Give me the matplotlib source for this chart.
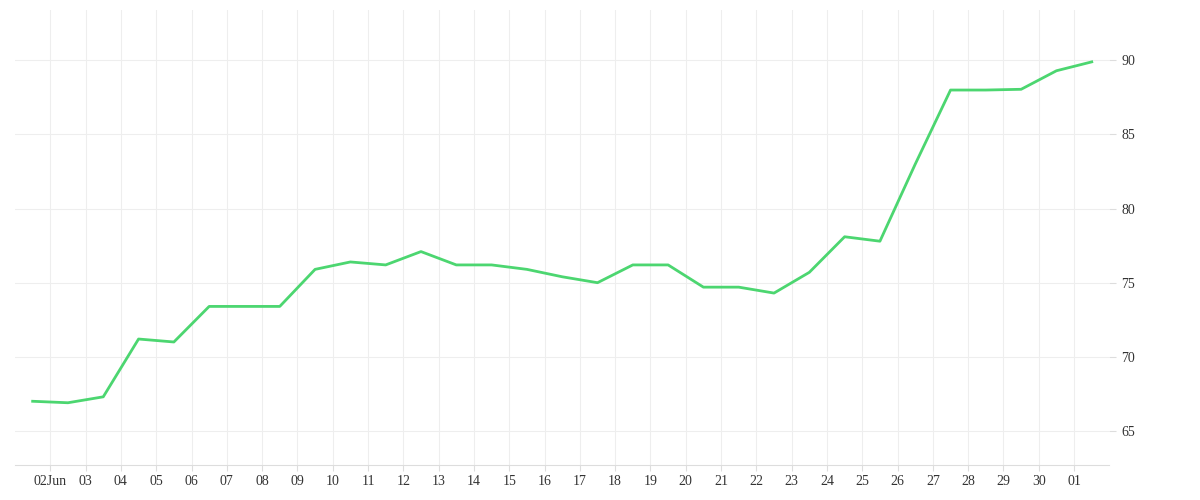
import pandas as pd
import matplotlib.pyplot as plt
import matplotlib.dates as mdates

dates = pd.date_range('2024-06-01 12:00', periods=31, freq='D')
values = [67.0, 66.9, 67.3, 71.2, 71.0, 73.4, 73.4, 73.4, 75.9, 76.4,
          76.2, 77.1, 76.2, 76.2, 75.9, 75.4, 75.0, 76.2, 76.2, 74.7,
          74.7, 74.3, 75.7, 78.1, 77.8, 83.0, 88.0, 88.0, 88.05, 89.3, 89.9]

plt.rcParams['font.family'] = ['Liberation Serif', 'DejaVu Serif']

fig = plt.figure(figsize=(12, 5), dpi=100)
ax = fig.add_axes([0.0125, 0.07, 0.912, 0.91])
ax.plot(dates, values, color='#4cd670', linewidth=2)

ax.set_xlim(pd.Timestamp('2024-06-01'), pd.Timestamp('2024-07-02'))
ax.set_ylim(62.7, 93.4)
ax.set_yticks([65, 70, 75, 80, 85, 90])
ax.yaxis.tick_right()

ticks = pd.date_range('2024-06-02', '2024-07-01', freq='D')
ax.set_xticks(ticks)
ax.set_xticklabels(['02Jun' if d.day == 2 else d.strftime('%d') for d in ticks])

ax.grid(True, color='#eeeeee', linewidth=0.8)
for s in ['top', 'left', 'right']:
    ax.spines[s].set_visible(False)
ax.spines['bottom'].set_color('#dddddd')
ax.tick_params(axis='both', colors='#dddddd', labelcolor='#333333', labelsize=10, length=4)
ax.tick_params(axis='y', length=5)

fig.savefig('out.png')
